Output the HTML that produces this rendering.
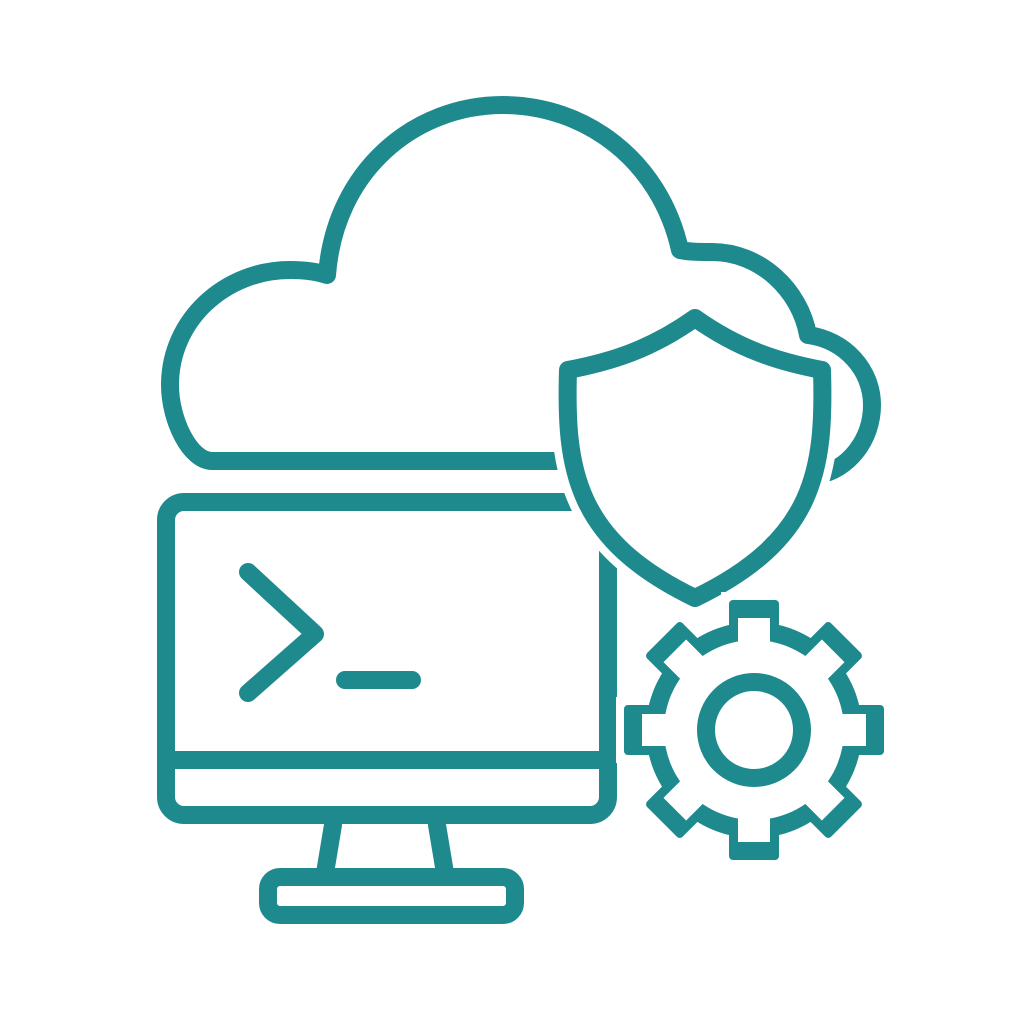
<!DOCTYPE html>
<html><head><meta charset="utf-8"><style>html,body{margin:0;background:#fff}</style></head>
<body>
<svg width="1024" height="1024" viewBox="0 0 1024 1024" xmlns="http://www.w3.org/2000/svg">
<g fill="none" stroke="#1e8a8e" stroke-width="18" stroke-linecap="round" stroke-linejoin="round">
<path d="M565 461 L212 461 C190 461 170 420 170 385 C170 320 225 270 290 270 C305 270 318 272 327 275 C335 170 415 105 503 105 C585 105 660 160 680 250 C690 252 700 252 712 252 C760 252 800 290 808 335 C845 340 872 370 872 405 C872 440 848 470 818 475"/>
<rect x="166" y="502" width="442" height="313" rx="18"/>
<line x1="166" y1="760" x2="608" y2="760"/>
<path d="M333 825 L325 873 M437 825 L445 873"/>
<rect x="268" y="877" width="247" height="38" rx="12"/>
<polyline points="248,572 315,634 248,693"/>
<line x1="345" y1="680" x2="412" y2="680"/>
</g>
<path d="M695 318 C650 350 610 362 568 370 C565 470 575 540 695 598 C815 540 825 470 822 370 C780 362 740 350 695 318Z" fill="#fff" stroke="#fff" stroke-width="34" stroke-linejoin="round"/>
<path d="M695 318 C650 350 610 362 568 370 C565 470 575 540 695 598 C815 540 825 470 822 370 C780 362 740 350 695 318Z" fill="#fff" stroke="#1e8a8e" stroke-width="18" stroke-linejoin="round"/>
<g transform="translate(754,730)">
<g fill="#fff">
<circle r="116"/>
<g id="th0"><rect x="-33" y="-138" width="66" height="276"/></g>
<use href="#th0" transform="rotate(45)"/><use href="#th0" transform="rotate(90)"/><use href="#th0" transform="rotate(135)"/>
</g>
<g fill="#1e8a8e">
<circle r="108"/>
<g id="th1"><rect x="-25" y="-130" width="50" height="260" rx="4"/></g>
<use href="#th1" transform="rotate(45)"/><use href="#th1" transform="rotate(90)"/><use href="#th1" transform="rotate(135)"/>
</g>
<g fill="#fff">
<circle r="90"/>
<g id="th2"><rect x="-16" y="-112" width="32" height="224"/></g>
<use href="#th2" transform="rotate(45)"/><use href="#th2" transform="rotate(90)"/><use href="#th2" transform="rotate(135)"/>
</g>
<circle r="48" fill="none" stroke="#1e8a8e" stroke-width="18"/>
</g>
</svg>
</body></html>
